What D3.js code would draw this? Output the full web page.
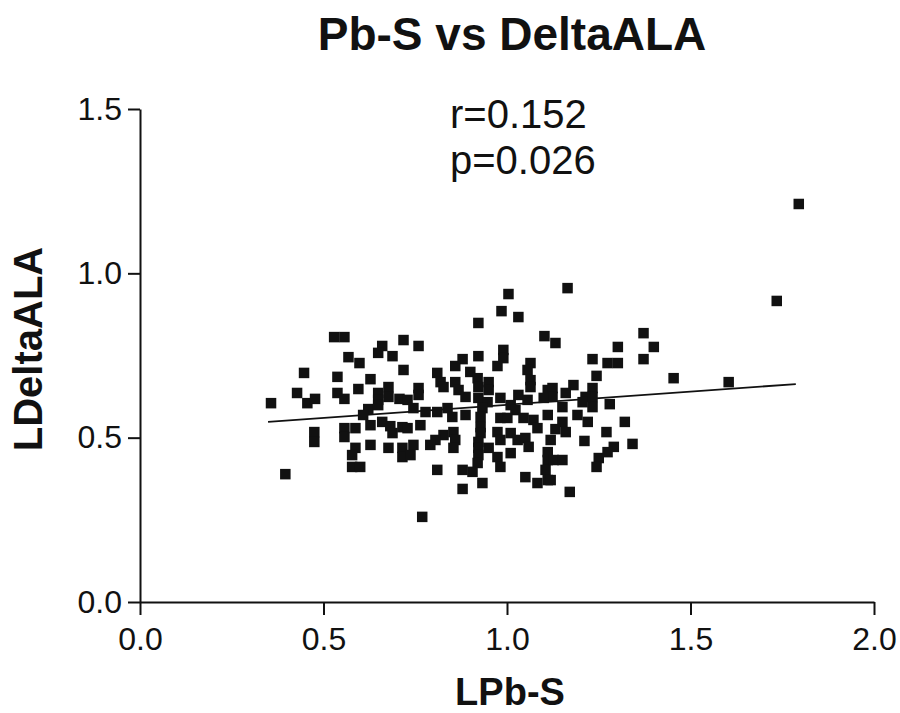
<!DOCTYPE html>
<html>
<head>
<meta charset="utf-8">
<script src="https://cdn.jsdelivr.net/npm/d3@7"></script>
<style>
  html, body { margin: 0; padding: 0; background: #fff; }
  svg { display: block; }
  text { font-family: "Liberation Sans", Arial, Helvetica, sans-serif; fill: #111; }
</style>
</head>
<body>
<svg id="chart" width="900" height="713"></svg>
<script>
// ---- data ----
const title = "Pb-S vs DeltaALA";
const xLabel = "LPb-S";
const yLabel = "LDeltaALA";
const statLines = ["r=0.152", "p=0.026"];
const xTicks = [0.0, 0.5, 1.0, 1.5, 2.0];
const yTicks = [0.0, 0.5, 1.0, 1.5];

const lpbS = [
  0.529,0.557,0.660,0.649,0.688,0.568,0.598,0.718,0.447,0.538,
  0.628,0.718,0.677,0.677,0.595,0.538,0.557,0.649,0.649,0.428,
  0.456,0.477,0.357,0.707,0.622,0.649,0.608,0.628,0.660,0.682,
  0.688,0.715,0.557,0.587,0.557,0.475,0.475,0.628,0.677,0.715,
  0.715,0.587,0.578,0.578,0.600,0.396,0.922,0.759,1.102,0.922,
  0.990,0.990,0.974,0.879,0.859,1.064,1.056,1.064,1.064,0.810,
  0.819,0.827,0.900,0.920,0.922,0.859,0.868,0.887,0.950,0.950,
  0.759,0.759,1.111,0.922,0.947,0.933,0.982,1.031,1.056,1.010,
  1.023,0.729,0.745,0.778,0.810,0.838,0.851,0.887,0.928,0.928,
  0.982,1.001,1.045,1.072,1.083,1.111,0.729,0.764,0.827,0.854,
  0.859,0.854,0.805,0.791,0.928,0.922,0.974,0.982,1.010,1.029,
  1.050,1.059,0.745,0.737,0.922,0.950,0.922,1.010,0.974,0.982,
  1.111,1.111,1.105,1.111,0.920,0.906,0.810,0.879,0.933,0.879,
  1.050,1.083,0.769,1.004,1.165,0.985,1.031,1.132,1.302,1.372,
  1.400,1.233,1.274,1.302,1.372,1.244,1.454,1.124,1.124,1.100,
  1.181,1.160,1.233,1.233,1.233,1.214,1.206,1.280,1.151,1.192,
  1.220,1.151,1.160,1.132,1.321,1.271,1.211,1.119,1.127,1.151,
  1.291,1.274,1.250,1.244,1.342,1.119,1.171,1.795,1.735,1.604
];
const lDeltaALA = [
  0.806,0.806,0.779,0.758,0.748,0.745,0.727,0.797,0.697,0.685,
  0.678,0.706,0.654,0.624,0.648,0.636,0.618,0.636,0.615,0.636,
  0.605,0.618,0.605,0.618,0.587,0.599,0.569,0.538,0.548,0.535,
  0.514,0.532,0.529,0.529,0.502,0.517,0.487,0.478,0.469,0.469,
  0.441,0.469,0.447,0.411,0.411,0.389,0.849,0.779,0.809,0.748,
  0.767,0.742,0.718,0.739,0.718,0.727,0.706,0.675,0.654,0.697,
  0.669,0.654,0.700,0.681,0.654,0.669,0.645,0.624,0.669,0.645,
  0.651,0.630,0.645,0.621,0.608,0.590,0.621,0.630,0.615,0.599,
  0.584,0.615,0.590,0.578,0.578,0.590,0.563,0.569,0.563,0.532,
  0.560,0.560,0.560,0.554,0.529,0.569,0.529,0.538,0.508,0.517,
  0.493,0.469,0.493,0.478,0.514,0.487,0.517,0.493,0.514,0.493,
  0.499,0.472,0.478,0.447,0.469,0.469,0.447,0.453,0.441,0.411,
  0.456,0.432,0.402,0.371,0.423,0.396,0.402,0.402,0.362,0.344,
  0.380,0.362,0.259,0.937,0.955,0.885,0.867,0.788,0.776,0.818,
  0.776,0.739,0.727,0.727,0.739,0.688,0.681,0.651,0.624,0.621,
  0.660,0.636,0.651,0.624,0.593,0.624,0.608,0.602,0.593,0.569,
  0.548,0.548,0.517,0.526,0.548,0.517,0.490,0.493,0.432,0.432,
  0.472,0.456,0.438,0.411,0.481,0.371,0.335,1.211,0.916,0.669
];
// regression line end points
const fitX = [0.349, 1.787];
const fitY = [0.548, 0.663];

// ---- drawing ----
const svg = d3.select("#chart");
const x = d3.scaleLinear().domain([0, 2]).range([140, 874]);
const y = d3.scaleLinear().domain([0, 1.5]).range([602, 109]);
const ink = "#111";

// title
svg.append("text")
  .attr("x", 512).attr("y", 50)
  .attr("text-anchor", "middle")
  .style("font-weight", "bold").style("font-size", "46px")
  .text(title);

// stats
svg.selectAll("text.stat").data(statLines).enter().append("text")
  .attr("class", "stat")
  .attr("x", 450).attr("y", (d, i) => 128 + i * 46)
  .style("font-size", "40px")
  .text(d => d);

// axes
const xAxis = d3.axisBottom(x).tickValues(xTicks).tickFormat(d3.format(".1f"))
  .tickSizeInner(13).tickSizeOuter(0).tickPadding(12);
const yAxis = d3.axisLeft(y).tickValues(yTicks).tickFormat(d3.format(".1f"))
  .tickSizeInner(12).tickSizeOuter(0).tickPadding(6);

const gx = svg.append("g").attr("transform", `translate(0,${y(0)})`).call(xAxis);
const gy = svg.append("g").attr("transform", `translate(${x(0)},0)`).call(yAxis);
[gx, gy].forEach(g => {
  g.select(".domain").attr("stroke", ink).attr("stroke-width", 2);
  g.selectAll(".tick line").attr("stroke", ink).attr("stroke-width", 2);
  g.selectAll(".tick text")
    .style("font-family", "'Liberation Sans', Arial, sans-serif")
    .style("font-size", "32px").attr("fill", ink);
});

// axis labels
svg.append("text")
  .attr("x", 510).attr("y", 705)
  .attr("text-anchor", "middle")
  .style("font-weight", "bold").style("font-size", "38px")
  .text(xLabel);
svg.append("text")
  .attr("transform", "translate(42,349) rotate(-90)")
  .attr("text-anchor", "middle")
  .style("font-weight", "bold").style("font-size", "40px")
  .text(yLabel);

// regression line
svg.append("line")
  .attr("x1", x(fitX[0])).attr("y1", y(fitY[0]))
  .attr("x2", x(fitX[1])).attr("y2", y(fitY[1]))
  .attr("stroke", ink).attr("stroke-width", 1.8);

// points
const pts = lpbS.map((v, i) => ({ x: v, y: lDeltaALA[i] }));
const s = 10.5;
svg.append("g").selectAll("rect").data(pts).enter().append("rect")
  .attr("x", d => x(d.x) - s / 2)
  .attr("y", d => y(d.y) - s / 2)
  .attr("width", s).attr("height", s)
  .attr("fill", ink);
</script>
</body>
</html>
